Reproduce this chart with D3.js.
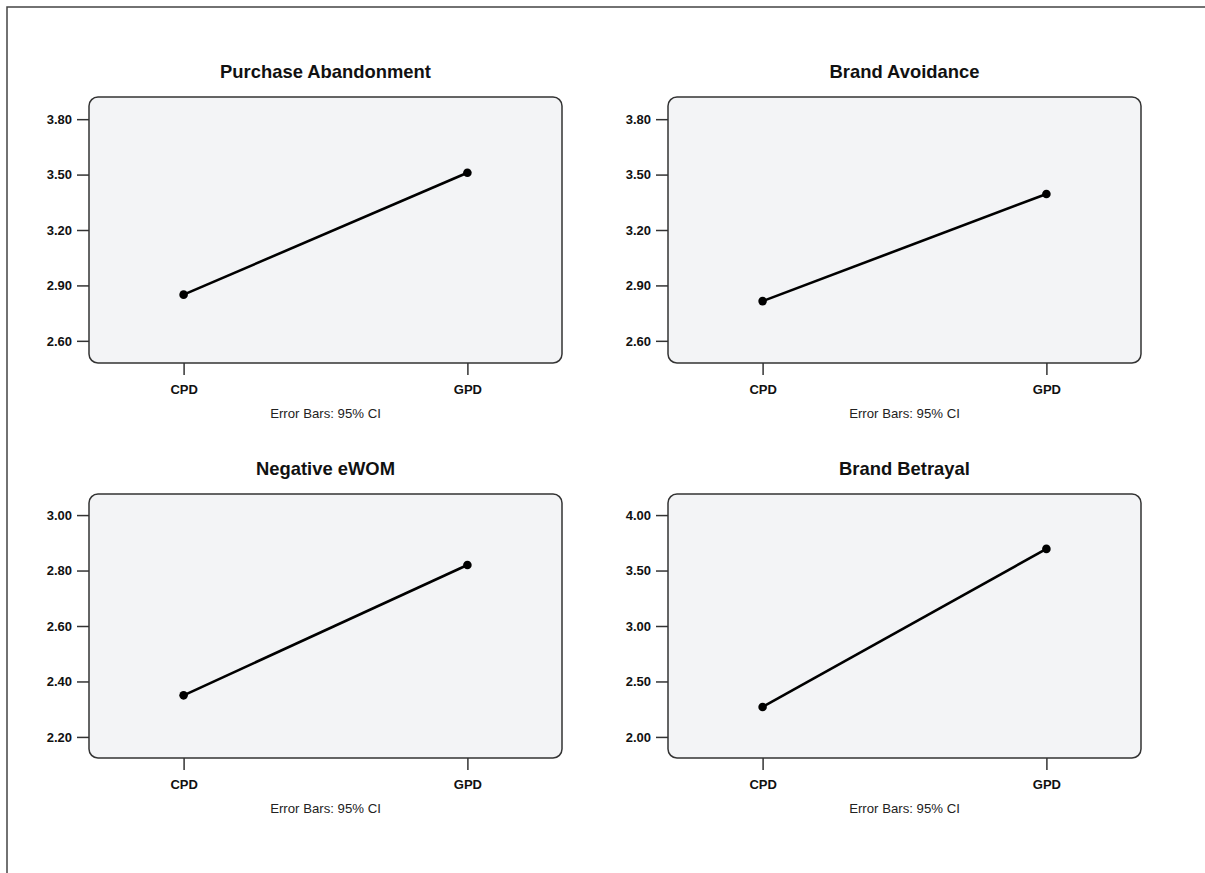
<!DOCTYPE html>
<html>
<head>
<meta charset="utf-8">
<script src="https://cdn.jsdelivr.net/npm/d3@7"></script>
<style>
  html, body { margin: 0; padding: 0; background: #fff; }
  svg { display: block; font-family: "Liberation Sans", Arial, sans-serif; }
</style>
</head>
<body>
<svg id="chart" width="1205" height="873"></svg>
<script>
// Group means per outcome (CPD vs GPD)
const groups = ["CPD", "GPD"];
const panelTitles = ["Purchase Abandonment", "Brand Avoidance", "Negative eWOM", "Brand Betrayal"];
const purchaseAbandonment = [2.85, 3.51];
const brandAvoidance = [2.815, 3.395];
const negativeEwom = [2.35, 2.82];
const brandBetrayal = [2.27, 3.695];

// Axis ranges and tick values per panel
const domainPA = [2.48, 3.92];
const domainBA = [2.48, 3.92];
const domainNE = [2.124, 3.076];
const domainBB = [1.81, 4.19];
const ticksPA = [2.60, 2.90, 3.20, 3.50, 3.80];
const ticksBA = [2.60, 2.90, 3.20, 3.50, 3.80];
const ticksNE = [2.20, 2.40, 2.60, 2.80, 3.00];
const ticksBB = [2.00, 2.50, 3.00, 3.50, 4.00];
const footnote = "Error Bars: 95% CI";

const panels = [
  { title: panelTitles[0], values: purchaseAbandonment, domain: domainPA, ticks: ticksPA, x: 89,  y: 97,  w: 473, h: 266 },
  { title: panelTitles[1], values: brandAvoidance,      domain: domainBA, ticks: ticksBA, x: 668, y: 97,  w: 473, h: 266 },
  { title: panelTitles[2], values: negativeEwom,        domain: domainNE, ticks: ticksNE, x: 89,  y: 494, w: 473, h: 264 },
  { title: panelTitles[3], values: brandBetrayal,       domain: domainBB, ticks: ticksBB, x: 668, y: 494, w: 473, h: 264 }
];

const svg = d3.select("#chart");

// outer page frame (top and left edges)
svg.append("path")
  .attr("d", "M7,873 L7,7 L1205,7")
  .attr("fill", "none")
  .attr("stroke", "#444")
  .attr("stroke-width", 1.5);

panels.forEach(p => {
  const g = svg.append("g").attr("transform", `translate(${p.x},${p.y})`);

  const x = d3.scaleLinear().domain([-1 / 3, 4 / 3]).range([0, p.w]);
  const y = d3.scaleLinear().domain(p.domain).range([p.h, 0]);

  // plot frame
  g.append("rect")
    .attr("x", 0).attr("y", 0)
    .attr("width", p.w).attr("height", p.h)
    .attr("rx", 9).attr("ry", 9)
    .attr("fill", "#f3f4f6")
    .attr("stroke", "#333")
    .attr("stroke-width", 1.5);

  // y axis
  const yAxis = g.append("g")
    .call(d3.axisLeft(y).tickValues(p.ticks).tickFormat(d3.format(".2f")).tickSize(12).tickPadding(5));
  yAxis.select(".domain").remove();
  yAxis.selectAll(".tick line").attr("stroke", "#333").attr("stroke-width", 1.5);
  yAxis.selectAll(".tick text")
    .attr("fill", "#111")
    .style("font-size", "13px")
    .style("font-weight", "bold")
    .style("font-family", "'Liberation Sans', Arial, sans-serif");

  // x axis
  const xAxis = g.append("g")
    .attr("transform", `translate(0,${p.h})`)
    .call(d3.axisBottom(x).tickValues([0, 1]).tickFormat(i => groups[i]).tickSize(12).tickPadding(10));
  xAxis.select(".domain").remove();
  xAxis.selectAll(".tick line").attr("stroke", "#333").attr("stroke-width", 1.5);
  xAxis.selectAll(".tick text")
    .attr("fill", "#111")
    .style("font-size", "13px")
    .style("font-weight", "bold")
    .style("font-family", "'Liberation Sans', Arial, sans-serif");

  // footnote
  g.append("text")
    .attr("x", p.w / 2).attr("y", p.h + 55)
    .attr("text-anchor", "middle")
    .attr("fill", "#222")
    .style("font-size", "13.2px")
    .text(footnote);

  // title
  g.append("text")
    .attr("x", p.w / 2).attr("y", -19.5)
    .attr("text-anchor", "middle")
    .attr("fill", "#111")
    .style("font-size", "18.4px")
    .style("font-weight", "bold")
    .text(p.title);

  // mean line and points
  const line = d3.line().x((d, i) => x(i)).y(d => y(d));
  g.append("path")
    .datum(p.values)
    .attr("d", line)
    .attr("fill", "none")
    .attr("stroke", "#000")
    .attr("stroke-width", 2.6);

  g.selectAll("circle.pt")
    .data(p.values)
    .join("circle")
    .attr("class", "pt")
    .attr("cx", (d, i) => x(i))
    .attr("cy", d => y(d))
    .attr("r", 4.3)
    .attr("fill", "#000");
});
</script>
</body>
</html>
